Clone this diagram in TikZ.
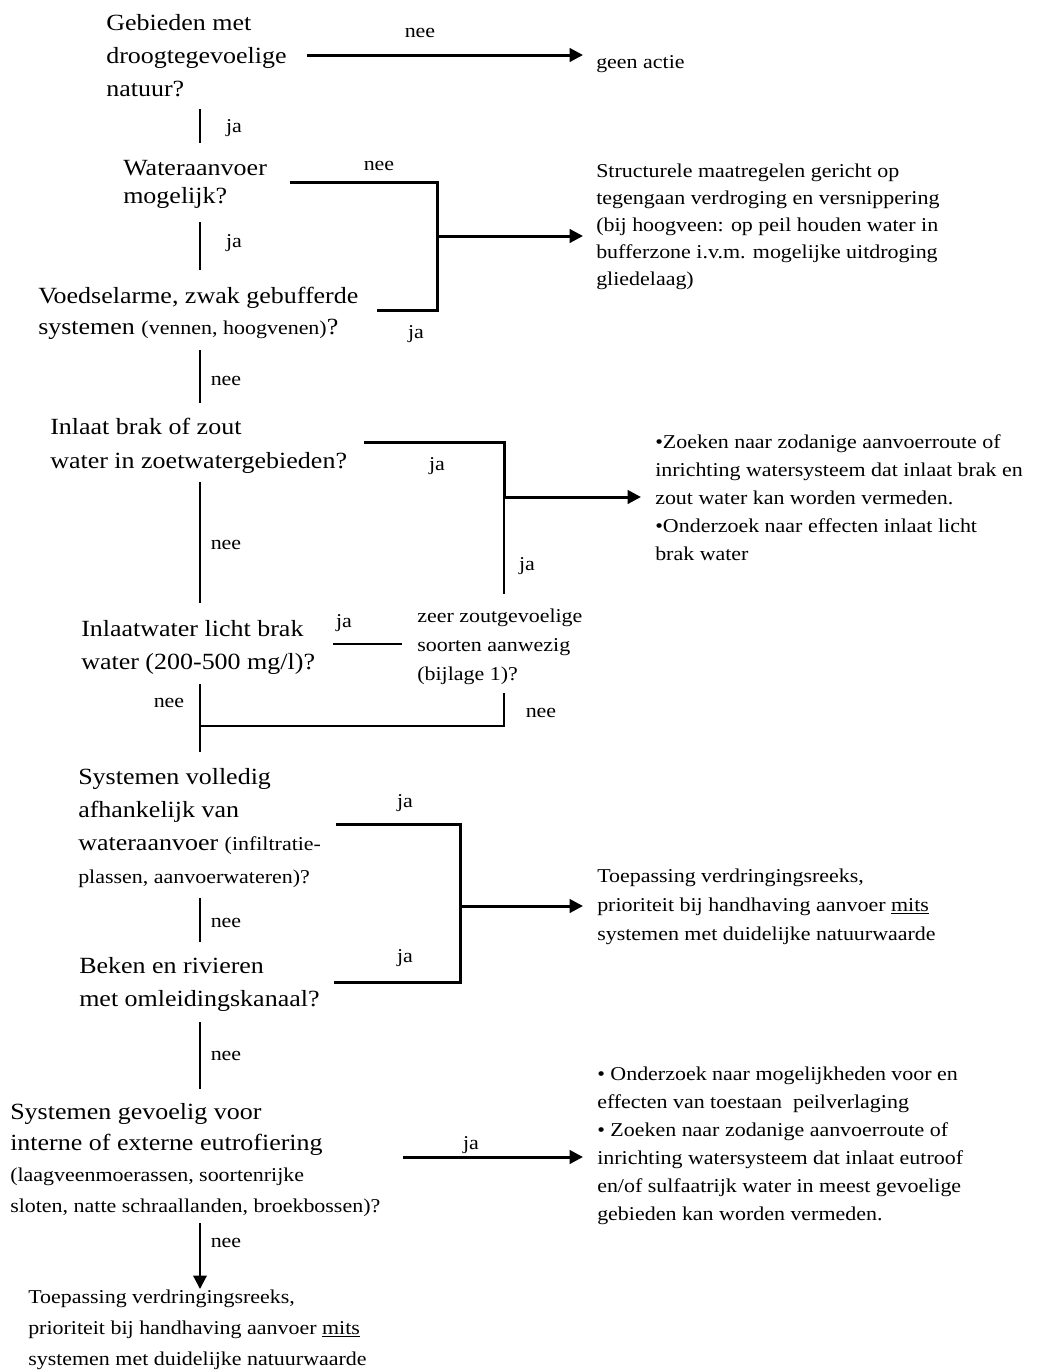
\documentclass[tikz,border=0pt]{standalone}
\usepackage{fontspec}
\setmainfont[FakeStretch=1.12]{Liberation Serif}
\usetikzlibrary{arrows.meta}
\newcommand\fsA{\fontsize{17.4}{24.75}\selectfont}
\newcommand\fsB{\fontsize{14.7}{21}\selectfont}
\tikzset{
  qtext/.style={anchor=base west, inner sep=0pt, align=left},
  lbl/.style={anchor=base, inner sep=0pt, font=\fsB},
  thk/.style={line width=2.25pt},
  thn/.style={line width=1pt},
  arr/.style={-{Triangle[length=10pt,width=10pt]}},
}
\begin{document}
\begin{tikzpicture}[x=0.75pt,y=-0.75pt]
\useasboundingbox (0,0) rectangle (1037,1372);
% ---------- question blocks (positioned at the baseline of their last line) ----------
\node[qtext,font={\fontsize{17.4}{24.75}\selectfont}] (q1) at (106,96) {Gebieden met\\droogtegevoelige\\natuur?};
\node[qtext,font={\fontsize{17.4}{21}\selectfont}] (q2) at (123,203) {Wateraanvoer\\mogelijk?};
\node[qtext,font={\fontsize{17.4}{23.25}\selectfont}] (q3) at (38,334) {Voedselarme, zwak gebufferde\\systemen {\fsB(vennen, hoogvenen)}?};
\node[qtext,font={\fontsize{17.4}{25.5}\selectfont}] (q4) at (50,468) {Inlaat brak of zout\\water in zoetwatergebieden?};
\node[qtext,font={\fontsize{17.4}{24.75}\selectfont}] (q5) at (81,669) {Inlaatwater licht brak\\water (200-500 mg/l)?};
\node[qtext,font={\fontsize{14.7}{21.75}\selectfont}] (q6) at (417,680) {zeer zoutgevoelige\\soorten aanwezig\\(bijlage 1)?};
\node[qtext,font={\fontsize{17.4}{24.75}\selectfont}] (q7) at (78,883) {Systemen volledig\\afhankelijk van\\wateraanvoer {\fsB(infiltratie-}\\{\fsB plassen, aanvoerwateren)?}};
\node[qtext,font={\fontsize{17.4}{24.75}\selectfont}] (q8) at (79,1006) {Beken en rivieren\\met omleidingskanaal?};
\node[qtext,font={\fontsize{17.4}{23.25}\selectfont}] (q9) at (10,1212) {Systemen gevoelig voor\\interne of externe eutrofiering\\{\fsB(laagveenmoerassen, soortenrijke}\\{\fsB sloten, natte schraallanden, broekbossen)?}};
% ---------- answer blocks ----------
\node[qtext,font={\fontsize{14.7}{21}\selectfont}] (a1) at (596,68) {geen actie};
\node[qtext,font={\fontsize{14.7}{20.25}\selectfont}] (a2) at (596,285) {Structurele maatregelen gericht op\\tegengaan verdroging en versnippering\\(bij hoogveen: op peil houden water in\\bufferzone i.v.m. mogelijke uitdroging\\gliedelaag)};
\node[qtext,font={\fontsize{14.7}{21}\selectfont}] (a3) at (655,560) {•Zoeken naar zodanige aanvoerroute of\\inrichting watersysteem dat inlaat brak en\\zout water kan worden vermeden.\\•Onderzoek naar effecten inlaat licht\\brak water};
\node[qtext,font={\fontsize{14.7}{21.4}\selectfont}] (a4) at (597,940) {Toepassing verdringingsreeks,\\prioriteit bij handhaving aanvoer \underline{mits}\\systemen met duidelijke natuurwaarde};
\node[qtext,font={\fontsize{14.7}{21}\selectfont}] (a5) at (597,1220) {• Onderzoek naar mogelijkheden voor en\\effecten van toestaan\ \ peilverlaging\\• Zoeken naar zodanige aanvoerroute of\\inrichting watersysteem dat inlaat eutroof\\en/of sulfaatrijk water in meest gevoelige\\gebieden kan worden vermeden.};
\node[qtext,font={\fontsize{14.7}{22.9}\selectfont}] (a6) at (28,1365) {Toepassing verdringingsreeks,\\prioriteit bij handhaving aanvoer \underline{mits}\\systemen met duidelijke natuurwaarde};
% ---------- connector points ----------
\coordinate (c1s) at (307,55);   \coordinate (c1e) at (583,55);
\coordinate (v1a) at (200,109);  \coordinate (v1b) at (200,143);
\coordinate (b1a) at (290,182);  \coordinate (b1b) at (437,182);
\coordinate (b1c) at (437,310);  \coordinate (b1d) at (377,310);
\coordinate (b1m) at (437,236);  \coordinate (b1e) at (583,236);
\coordinate (v2a) at (200,222);  \coordinate (v2b) at (200,270);
\coordinate (v3a) at (200,350);  \coordinate (v3b) at (200,403);
\coordinate (b2a) at (364,442);  \coordinate (b2b) at (504,442);
\coordinate (b2c) at (504,497);  \coordinate (b2e) at (641,497);
\coordinate (b2d) at (504,594);
\coordinate (v4a) at (200,482);  \coordinate (v4b) at (200,603);
\coordinate (h5a) at (333,644);  \coordinate (h5b) at (402,644);
\coordinate (v5a) at (200,684);  \coordinate (v5b) at (200,752);
\coordinate (v5j) at (200,726);  \coordinate (v6j) at (504,726);
\coordinate (v6a) at (504,693);
\coordinate (b3a) at (336,824);  \coordinate (b3b) at (460,824);
\coordinate (b3c) at (460,982);  \coordinate (b3d) at (334,982);
\coordinate (b3m) at (460,906);  \coordinate (b3e) at (583,906);
\coordinate (v7a) at (200,898);  \coordinate (v7b) at (200,942);
\coordinate (v8a) at (200,1022); \coordinate (v8b) at (200,1089);
\coordinate (c9s) at (403,1157); \coordinate (c9e) at (583,1157);
\coordinate (d9s) at (200,1223); \coordinate (d9e) at (200,1289);
% ---------- connectors ----------
\draw[thk,arr] (c1s) -- (c1e);
\draw[thn] (v1a) -- (v1b);
\draw[thk] (b1a) -- (b1b) -- (b1c) -- (b1d);
\draw[thk,arr] (b1m) -- (b1e);
\draw[thn] (v2a) -- (v2b);
\draw[thn] (v3a) -- (v3b);
\draw[thk] (b2a) -- (b2b) -- (b2c);
\draw[thk,arr] (b2c) -- (b2e);
\draw[thn] (b2c) -- (b2d);
\draw[thn] (v4a) -- (v4b);
\draw[thn] (h5a) -- (h5b);
\draw[thn] (v5a) -- (v5b);
\draw[thn] (v5j) -- (v6j) -- (v6a);
\draw[thk] (b3a) -- (b3b) -- (b3c) -- (b3d);
\draw[thk,arr] (b3m) -- (b3e);
\draw[thn] (v7a) -- (v7b);
\draw[thn] (v8a) -- (v8b);
\draw[thk,arr] (c9s) -- (c9e);
\draw[line width=1.5pt,arr] (d9s) -- (d9e);
% ---------- labels ----------
\node[lbl] (l1) at (420,37) {nee};
\node[lbl] (l2) at (234,132) {ja};
\node[lbl] (l3) at (379,170) {nee};
\node[lbl] (l4) at (234,247) {ja};
\node[lbl] (l5) at (416,338) {ja};
\node[lbl] (l6) at (226,385) {nee};
\node[lbl] (l7) at (437,470) {ja};
\node[lbl] (l8) at (226,549) {nee};
\node[lbl] (l9) at (527,570) {ja};
\node[lbl] (l10) at (344,627) {ja};
\node[lbl] (l11) at (169,707) {nee};
\node[lbl] (l12) at (541,717) {nee};
\node[lbl] (l13) at (405,807) {ja};
\node[lbl] (l14) at (226,927) {nee};
\node[lbl] (l15) at (405,962) {ja};
\node[lbl] (l16) at (226,1060) {nee};
\node[lbl] (l17) at (471,1149) {ja};
\node[lbl] (l18) at (226,1247) {nee};
\end{tikzpicture}
\end{document}
